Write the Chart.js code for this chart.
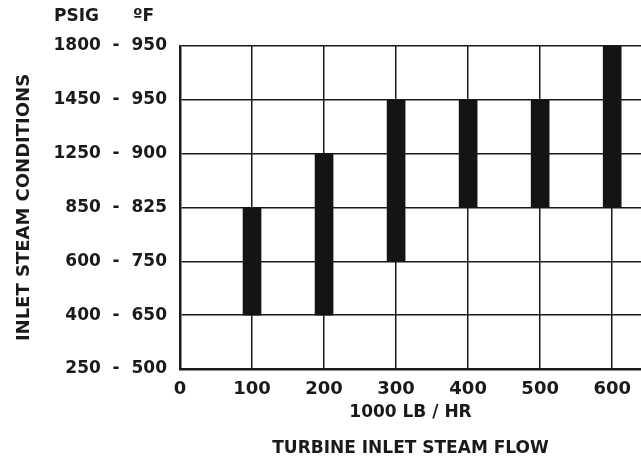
<!DOCTYPE html>
<html>
<head>
<meta charset="utf-8">
<script src="https://cdn.jsdelivr.net/npm/chart.js@4"></script>
<style>
  html, body { margin: 0; padding: 0; background: #fff; }
  #wrap { width: 641px; height: 457px; }
</style>
</head>
<body>
<div id="wrap"><canvas id="steamChart"></canvas></div>
<script>
// steam conditions, bottom to top (PSIG - degF)
const conditions = ['250 - 500', '400 - 650', '600 - 750', '850 - 825', '1250 - 900', '1450 - 950', '1800 - 950'];

// turbine inlet flow, 1000 lb/hr
const flows = [100, 200, 300, 400, 500, 600];
const lowCondition = ['400 - 650', '400 - 650', '600 - 750', '850 - 825', '850 - 825', '850 - 825'];
const highCondition = ['850 - 825', '1250 - 900', '1450 - 950', '1450 - 950', '1450 - 950', '1800 - 950'];

const FONT = "'DejaVu Sans', sans-serif";
const INK = '#1a1a1a';

const ranges = flows.map((f, i) => ({
  x: f,
  y: [conditions.indexOf(lowCondition[i]), conditions.indexOf(highCondition[i])]
}));

// header above the y labels
const headerPlugin = {
  id: 'header',
  afterDraw: (chart) => {
    const ctx = chart.ctx;
    ctx.save();
    ctx.font = "bold 17px " + FONT;
    ctx.fillStyle = INK;
    ctx.textBaseline = 'middle';
    ctx.fillText('PSIG', 54, 17);
    ctx.fillText('ºF', 133, 17);
    ctx.restore();
  }
};

new Chart(document.getElementById('steamChart'), {
  type: 'bar',
  data: {
    datasets: [{
      data: ranges,
      backgroundColor: '#141414',
      borderWidth: 0,
      barThickness: 18
    }]
  },
  options: {
    responsive: true,
    maintainAspectRatio: false,
    animation: false,
    layout: { padding: { top: 46, right: 0, bottom: 0, left: 0 } },
    plugins: {
      legend: { display: false },
      tooltip: { enabled: false }
    },
    scales: {
      x: {
        type: 'linear',
        min: 0,
        max: 640,
        offset: false,
        afterFit: (scale) => { scale.height = 88; },
        grid: { color: INK, lineWidth: 1.5, drawTicks: false, offset: false },
        border: { color: INK, width: 2.5 },
        ticks: {
          stepSize: 100,
          includeBounds: false,
          padding: 10,
          color: INK,
          font: { family: FONT, size: 18, weight: 'bold' }
        },
        title: {
          display: true,
          text: ['1000 LB / HR', 'TURBINE INLET STEAM FLOW'],
          color: INK,
          font: { family: FONT, size: 17, weight: 'bold', lineHeight: 2.15 },
          padding: { top: 0, bottom: -10 }
        }
      },
      y: {
        type: 'linear',
        min: 0,
        max: conditions.length - 1,
        afterFit: (scale) => { scale.width = 180; },
        grid: { color: INK, lineWidth: 1.5, drawTicks: false },
        border: { color: INK, width: 2.5 },
        ticks: {
          stepSize: 1,
          padding: 13,
          color: INK,
          font: { family: FONT, size: 17, weight: 'bold' },
          callback: (v) => (conditions[v] || '').replace(' - ', '  -  ')
        },
        title: {
          display: true,
          text: 'INLET STEAM CONDITIONS',
          color: INK,
          font: { family: FONT, size: 18, weight: 'bold' },
          padding: { top: 14, bottom: 0 }
        }
      }
    }
  },
  plugins: [headerPlugin]
});
</script>
</body>
</html>
